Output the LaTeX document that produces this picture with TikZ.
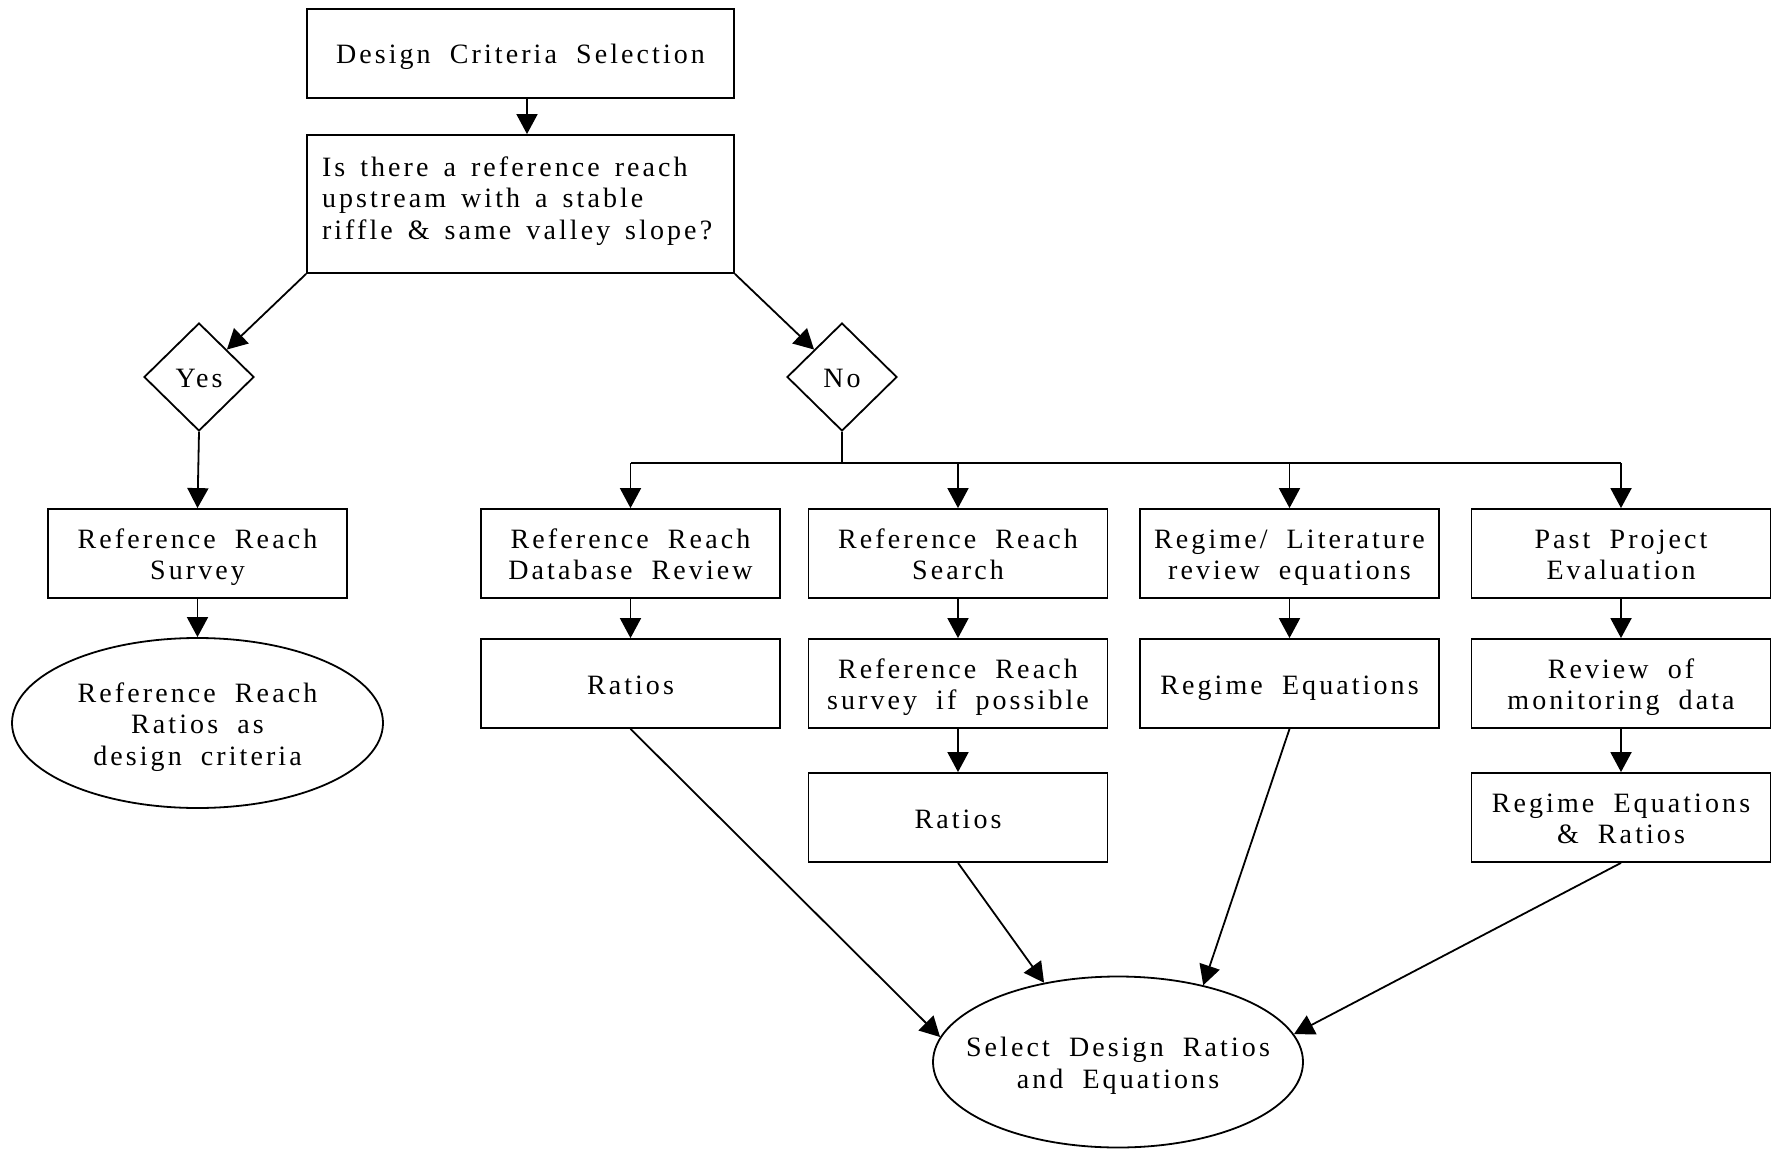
\documentclass[tikz,border=0pt]{standalone}
\usepackage{fontspec}
\setmainfont{Liberation Serif}[LetterSpace=11,WordSpace=1.9]
\usetikzlibrary{shapes.geometric,arrows.meta}
\newcommand\lnst{\rule{0pt}{27.5pt}}
\newcommand\lnd{\rule[-6.5pt]{0pt}{6.5pt}}
\begin{document}
\begin{tikzpicture}[x=1pt,y=-1pt,
  every node/.style={font=\fontsize{28}{31.5}\selectfont, line width=1.8pt, inner sep=0pt},
  box/.style={draw, minimum width=299pt, minimum height=89pt, align=center},
  wide/.style={draw, minimum width=427pt, minimum height=89pt, align=center},
  dia/.style={draw, diamond, minimum width=110pt, minimum height=108pt},
  oval/.style={draw, ellipse, inner xsep=-25pt, minimum width=371pt, minimum height=170pt, align=center},
  arr/.style={line width=1.8pt, -{Triangle[length=20pt,width=21pt]}},
  ln/.style={line width=1.8pt}]
\useasboundingbox (0,0) rectangle (1788,1150);
\fill[white] (0,0) rectangle (1788,1150);

\node[wide] (top) at (520.5,53.5) {\lnst Design Criteria Selection\lnd};
\node[draw, minimum width=427pt, minimum height=138pt, text width=397pt, align=left] (q) at (520.5,204)
  {\spaceskip=15pt\xspaceskip=15pt\relax Is there a reference reach\\upstream with a stable\\riffle \& same valley slope?\rule[-12pt]{0pt}{0pt}};
\node[dia] (yes) at (199,377) {\lnst Yes\lnd};
\node[dia] (no) at (842,377) {\lnst No\lnd};
\node[box] (rrs) at (197.5,553.5) {\lnst Reference Reach\\Survey\lnd};
\node[oval] (rrr) at (197.5,723) {\lnst Reference Reach\\Ratios as\\design criteria\lnd};

\node[box] (c1a) at (630.5,553.5) {\lnst Reference Reach\\Database Review\lnd};
\node[box] (c1b) at (630.5,683.5) {\lnst Ratios\lnd};
\node[box] (c2a) at (958,553.5) {\lnst Reference Reach\\Search\lnd};
\node[box] (c2b) at (958,683.5) {\lnst Reference Reach\\survey if possible\lnd};
\node[box] (c2c) at (958,817.5) {\lnst Ratios\lnd};
\node[box] (c3a) at (1289.5,553.5) {\lnst Regime/ Literature\\review equations\lnd};
\node[box] (c3b) at (1289.5,683.5) {\lnst Regime Equations\lnd};
\node[box] (c4a) at (1621,553.5) {\lnst Past Project\\Evaluation\lnd};
\node[box] (c4b) at (1621,683.5) {\lnst Review of\\monitoring data\lnd};
\node[box] (c4c) at (1621,817.5) {\lnst Regime Equations\\\& Ratios\lnd};
\node[oval, minimum width=370pt, minimum height=171pt] (sel) at (1118,1062) {\lnst Select Design Ratios\\and Equations\lnd};

\coordinate (bus) at (0,463);

\draw[arr] ([xshift=6.5pt]top.south) -- ([xshift=6.5pt]q.north);
\draw[arr] (q.south west) -- (yes.north east);
\draw[arr] (q.south east) -- (no.north west);
\draw[arr] (yes.south) -- (rrs.north);
\draw[arr] (rrs.south) -- (rrr.north);

\draw[ln] (no.south) -- (no.south |- bus);
\draw[ln] (c1a.north |- bus) -- (c4a.north |- bus);
\draw[arr] (c1a.north |- bus) -- (c1a.north);
\draw[arr] (c2a.north |- bus) -- (c2a.north);
\draw[arr] (c3a.north |- bus) -- (c3a.north);
\draw[arr] (c4a.north |- bus) -- (c4a.north);

\draw[arr] (c1a.south) -- (c1b.north);
\draw[arr] (c2a.south) -- (c2b.north);
\draw[arr] (c2b.south) -- (c2c.north);
\draw[arr] (c3a.south) -- (c3b.north);
\draw[arr] (c4a.south) -- (c4b.north);
\draw[arr] (c4b.south) -- (c4c.north);

\draw[arr] (c1b.south) -- (sel.172.5);
\draw[arr] (c2c.south) -- (sel.133.5);
\draw[arr] (c3b.south) -- (sel.42.5);
\draw[arr] (c4c.south) -- (sel.9.4);
\end{tikzpicture}
\end{document}
